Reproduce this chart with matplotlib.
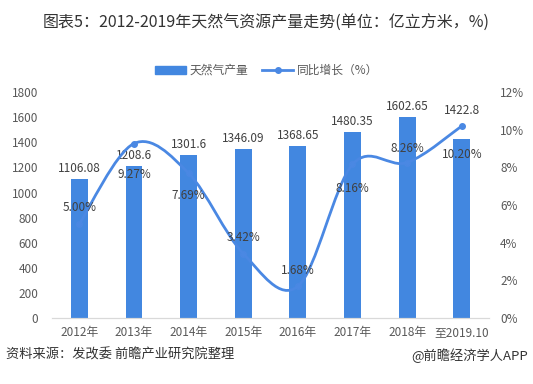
import matplotlib.pyplot as plt
from matplotlib.path import Path
from matplotlib.patches import PathPatch, Patch
from matplotlib.lines import Line2D
import numpy as np

plt.rcParams['font.family'] = ['Noto Sans CJK SC', 'DejaVu Sans']

years = ["2012年", "2013年", "2014年", "2015年", "2016年", "2017年", "2018年", "至2019.10"]
output = [1106.08, 1208.6, 1301.6, 1346.09, 1368.65, 1480.35, 1602.65, 1422.8]
growth = [5.00, 9.27, 7.69, 3.42, 1.68, 8.16, 8.26, 10.20]
bar_labels = ["1106.08", "1208.6", "1301.6", "1346.09", "1368.65", "1480.35", "1602.65", "1422.8"]
# label offsets in pixels (positive = above)
bar_offsets = [4, 4, 4, 4, 4, 4, 4, 22]
pct_offsets = [16, -31, -22, 16, 16, -24, 14, -28]

blue = "#4287E0"
line_blue = "#4A88E3"
grey = "#595959"

fig = plt.figure(figsize=(5.33, 3.84), dpi=100)
ax = fig.add_axes([0.0976, 0.172, 0.82, 0.588])
ax2 = ax.twinx()

x = np.arange(len(years))
ax.bar(x, output, width=0.31, color=blue, zorder=2)
for xi, v, s, off in zip(x, output, bar_labels, bar_offsets):
    ax.annotate(s, (xi, v), xytext=(0, off), textcoords="offset pixels",
                ha="center", va="bottom", fontsize=8.5, color="#404040")

ax.set_ylim(0, 1800)
ax.set_yticks(range(0, 1801, 200))
ax.set_xlim(-0.5, len(years) - 0.5)
ax.set_xticks(x)
ax.set_xticklabels(years)

# smoothed line (Catmull-Rom through the data points, drawn as Bezier path)
pts = list(zip(x, growth))
verts = [pts[0]]
codes = [Path.MOVETO]
for i in range(len(pts) - 1):
    p0 = np.array(pts[max(i - 1, 0)], float)
    p1 = np.array(pts[i], float)
    p2 = np.array(pts[i + 1], float)
    p3 = np.array(pts[min(i + 2, len(pts) - 1)], float)
    c1 = p1 + (p2 - p0) / 6
    c2 = p2 - (p3 - p1) / 6
    verts += [tuple(c1), tuple(c2), tuple(p2)]
    codes += [Path.CURVE4] * 3
ax2.add_patch(PathPatch(Path(verts, codes), facecolor="none", edgecolor=line_blue,
                        lw=2, zorder=3))
ax2.plot(x, growth, linestyle="none", marker="o", markersize=4, color=line_blue, zorder=4)

for xi, g, off in zip(x, growth, pct_offsets):
    ax2.annotate(f"{g:.2f}%", (xi, g), xytext=(0, off), textcoords="offset pixels",
                 ha="center", va="center", fontsize=8.5, color="#404040", zorder=5)

ax2.set_ylim(0, 12)
ax2.set_yticks(range(0, 13, 2))
ax2.set_yticklabels([f"{t}%" for t in range(0, 13, 2)])

for a in (ax, ax2):
    for s in ("top", "left", "right"):
        a.spines[s].set_visible(False)
    a.spines["bottom"].set_color("#d9d9d9")
    a.tick_params(length=0, colors=grey, labelsize=8.5)
ax.tick_params(axis="y", pad=10)
ax2.tick_params(axis="y", pad=8)
ax.tick_params(axis="x", pad=6)

handles = [Patch(color=blue), Line2D([], [], color=line_blue, lw=2, marker="o", markersize=4)]
fig.legend(handles, ["天然气产量", "同比增长（%）"], loc="center", bbox_to_anchor=(0.5, 0.817),
           ncol=2, frameon=False, fontsize=8.5, handlelength=2.6, columnspacing=1.2,
           handletextpad=0.3, labelcolor=grey)

fig.text(0.5, 0.94, "图表5：2012-2019年天然气资源产量走势(单位：亿立方米，%)",
         ha="center", va="center", fontsize=11.5, color="#333333")
fig.text(0.012, 0.075, "资料来源：发改委 前瞻产业研究院整理", ha="left", va="center",
         fontsize=9.5, color="#333333")
fig.text(0.99, 0.075, "@前瞻经济学人APP", ha="right", va="center",
         fontsize=9.5, color="#333333")

fig.savefig("out.png", dpi=100)
